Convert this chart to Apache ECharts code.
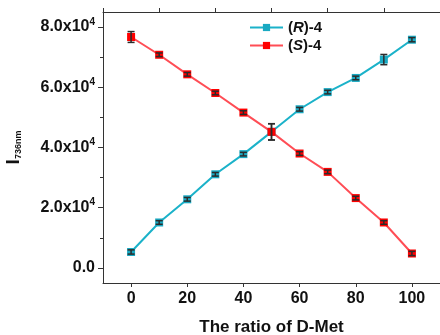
<!DOCTYPE html>
<html>
<head>
<meta charset="utf-8">
<script src="https://cdn.jsdelivr.net/npm/echarts@6/dist/echarts.min.js"></script>
<style>
  html, body { margin: 0; padding: 0; background: #fff; }
  #chart { width: 440px; height: 335px; }
</style>
</head>
<body>
<div id="chart"></div>
<script>
// ratio of D-Met (%)
const ratios = [0, 10, 20, 30, 40, 50, 60, 70, 80, 90, 100]
// (R)-4 intensity and error
const r4 = [5300, 15100, 22800, 31100, 37800, 45200, 52700, 58400, 63100, 69200, 75800]
const r4Err = [700, 600, 600, 600, 600, 2700, 600, 600, 600, 1700, 700]
// (S)-4 intensity and error
const s4 = [76700, 70800, 64300, 58100, 51600, 45200, 38000, 31900, 23200, 15100, 4800]
const s4Err = [1800, 600, 600, 600, 600, 2700, 600, 600, 600, 600, 700]

const xMajorTicks = [0, 20, 40, 60, 80, 100]
const xMinorTicks = [-10, 10, 30, 50, 70, 90, 110]
const yMajorTicks = [0, 20000, 40000, 60000, 80000]
const yMinorTicks = [10000, 30000, 50000, 70000]
const yTickLabels = ['0.0', '2.0x10', '4.0x10', '6.0x10', '8.0x10']

const axisColor = '#333'
const font = 'Liberation Sans, Arial, sans-serif'

const chart = echarts.init(document.getElementById('chart'))

function errorBars(values, errs) {
  return ratios.map((r, i) => [r, values[i] - errs[i], values[i] + errs[i]])
}

function renderErr(params, api) {
  const x = api.value(0)
  const lo = api.coord([x, api.value(1)])
  const hi = api.coord([x, api.value(2)])
  const w = 3.5
  const style = { stroke: '#2b2b2b', lineWidth: 1.5 }
  return {
    type: 'group',
    children: [
      { type: 'line', shape: { x1: lo[0], y1: lo[1], x2: hi[0], y2: hi[1] }, style },
      { type: 'line', shape: { x1: lo[0] - w, y1: lo[1], x2: lo[0] + w, y2: lo[1] }, style },
      { type: 'line', shape: { x1: hi[0] - w, y1: hi[1], x2: hi[0] + w, y2: hi[1] }, style }
    ]
  }
}

const xBase = {
  type: 'value', min: -10, max: 110,
  axisLine: { show: true, onZero: false, lineStyle: { color: axisColor, width: 1 } },
  splitLine: { show: false }
}
const yBase = {
  type: 'value', min: -5000, max: 85000,
  axisLine: { show: true, onZero: false, lineStyle: { color: axisColor, width: 1 } },
  splitLine: { show: false }
}

chart.setOption({
  animation: false,
  grid: { left: 103, right: 0, top: 12, bottom: 52, outerBoundsMode: 'none' },
  legend: {
    orient: 'vertical',
    left: 244, top: 15,
    itemWidth: 33, itemHeight: 9, itemGap: 3,
    data: ['R', 'S'],
    formatter: name => '{p|(}{i|' + name + '}{p|)-4}',
    textStyle: {
      rich: {
        p: { fontFamily: font, fontSize: 15, fontWeight: 'bold', color: '#111' },
        i: { fontFamily: font, fontSize: 15, fontWeight: 'bold', fontStyle: 'italic', color: '#111' }
      }
    }
  },
  xAxis: [
    Object.assign({}, xBase, {
      name: 'The ratio of D-Met',
      nameLocation: 'middle', nameGap: 36,
      nameTextStyle: { fontFamily: font, fontSize: 17, fontWeight: 'bold', color: '#111' },
      axisTick: { show: true, length: 4, customValues: xMajorTicks, lineStyle: { color: axisColor } },
      axisLabel: {
        customValues: xMajorTicks, margin: 8,
        fontFamily: font, fontSize: 16, fontWeight: 'bold', color: '#111'
      }
    }),
    Object.assign({}, xBase, {
      axisTick: { show: true, length: 4, customValues: xMinorTicks, lineStyle: { color: axisColor } },
      axisLabel: { show: false }
    })
  ],
  yAxis: [
    Object.assign({}, yBase, {
      name: '{i|I}{s|736nm}',
      nameLocation: 'middle', nameGap: 80,
      nameTextStyle: {
        rich: {
          i: { fontFamily: font, fontSize: 19, fontWeight: 'bold', color: '#111' },
          s: { fontFamily: font, fontSize: 9, fontWeight: 'bold', color: '#111', verticalAlign: 'bottom', padding: [10, 0, 0, 0] }
        }
      },
      axisTick: { show: true, length: 5, customValues: yMajorTicks, lineStyle: { color: axisColor } },
      axisLabel: {
        customValues: yMajorTicks, margin: 8,
        formatter: v => {
          const k = yMajorTicks.indexOf(v)
          return k === 0 ? '{b|' + yTickLabels[k] + '}' : '{b|' + yTickLabels[k] + '}{s|4}'
        },
        rich: {
          b: { fontFamily: font, fontSize: 16, fontWeight: 'bold', color: '#111', lineHeight: 18 },
          s: { fontFamily: font, fontSize: 10, fontWeight: 'bold', color: '#111', verticalAlign: 'top', padding: [0, 0, 10, 0] }
        }
      }
    }),
    Object.assign({}, yBase, {
      position: 'left',
      axisTick: { show: true, length: 3, customValues: yMinorTicks, lineStyle: { color: axisColor } },
      axisLabel: { show: false }
    })
  ],
  series: [
    {
      name: 'R', type: 'line',
      data: ratios.map((r, i) => [r, r4[i]]),
      symbol: 'rect', symbolSize: 8,
      lineStyle: { color: '#1bb2c9', width: 2 },
      itemStyle: { color: '#19a9c2' },
      z: 3
    },
    {
      name: 'S', type: 'line',
      data: ratios.map((r, i) => [r, s4[i]]),
      symbol: 'rect', symbolSize: 8,
      lineStyle: { color: '#ff4d55', width: 2 },
      itemStyle: { color: '#ff0000' },
      z: 3
    },
    {
      type: 'custom', renderItem: renderErr,
      data: errorBars(r4, r4Err), encode: { x: 0, y: [1, 2] }, z: 5
    },
    {
      type: 'custom', renderItem: renderErr,
      data: errorBars(s4, s4Err), encode: { x: 0, y: [1, 2] }, z: 5
    }
  ]
})
</script>
</body>
</html>
